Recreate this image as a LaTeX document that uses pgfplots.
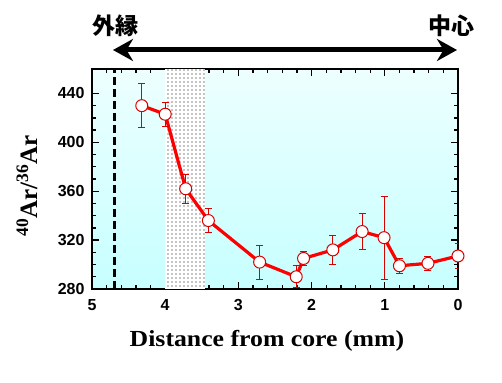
\documentclass[border=0pt]{standalone}
\usepackage{fontspec}
\setmainfont{Liberation Serif}
\newfontfamily\sansb{Liberation Sans}
\newfontfamily\cjk{Noto Sans CJK JP}
\usepackage{pgfplots}
\pgfplotsset{compat=1.18}
\usetikzlibrary{patterns,arrows.meta}
\pgfdeclarepatternformonly{bigdots}{\pgfqpoint{-1pt}{-1pt}}{\pgfqpoint{1pt}{1pt}}{\pgfqpoint{4pt}{4pt}}{%
  \pgfpathcircle{\pgfqpoint{0pt}{0pt}}{0.6pt}\pgfusepath{fill}}
\pgfplotstableread{
x y err
4.32 430 18
4.00 423 10
3.72 362 12
3.41 336 10
2.71 302 14
2.21 290 9
2.11 305 6
1.71 312 12
1.31 327 14.5
1.01 322 34
0.80 299 6
0.41 301 6
0.00 307 10
}\datatab
\begin{document}
\begin{tikzpicture}[x=1pt,y=1pt]
\path[use as bounding box] (0,0) rectangle (502,382);
\begin{axis}[
  at={(92pt,93pt)}, anchor=south west,
  scale only axis, width=366pt, height=220pt,
  x dir=reverse, xmin=0, xmax=5, ymin=280, ymax=460,
  xtick={0,1,2,3,4,5}, ytick={280,320,360,400,440},
  minor x tick num=4, minor y tick num=3,
  tick align=inside, axis line style={line width=2pt},
  major tick length=7pt, minor tick length=4pt,
  every tick/.style={black, line width=1.3pt},
  /pgf/number format/assume math mode=true,
  ticklabel style={font=\sansb\bfseries\fontsize{16}{18}\selectfont},
  xticklabel style={yshift=-7pt},
  yticklabel style={xshift=-4pt},
  axis background/.style={top color=cyan!7!white, bottom color=cyan!22!white},
  xlabel={\bfseries Distance from core (mm)},
  xlabel style={font=\fontsize{23}{25}\selectfont, xscale=1.12, at={(axis description cs:0.478,-0.236)}, anchor=center},
  ylabel={\bfseries \textsuperscript{40}Ar/\textsuperscript{36}Ar},
  ylabel style={font=\fontsize{25}{27}\selectfont, at={(axis description cs:-0.178,0.468)}, anchor=center},
  clip=true,
]
\addplot[fill=white, draw=none] coordinates {(4.0,280) (4.0,460) (3.45,460) (3.45,280)} -- cycle;
\addplot[pattern=bigdots, pattern color=black, draw=none] coordinates {(4.0,280) (4.0,460) (3.45,460) (3.45,280)} -- cycle;
\addplot[black, line width=2.5pt, dash pattern=on 8pt off 4pt] coordinates {(4.69,280) (4.69,460)};
\addplot[red, line width=3.2pt, mark=*, mark size=6pt,
  mark options={fill=white, draw=red!85!black, line width=1pt, solid},
  error bars/.cd, y dir=both, y explicit,
  error bar style={red!85!black, line width=0.9pt},
  error mark options={red!85!black, line width=0.9pt, mark size=3.5pt, rotate=90}]
  table[x=x, y=y, y error=err] {\datatab};
\end{axis}
\draw[line width=5pt, {Stealth[length=20pt,width=22pt]}-{Stealth[length=20pt,width=22pt]}] (113,332) -- (457,332);
\node[font=\cjk\bfseries\fontsize{23}{25}\selectfont] at (115,356) {外縁};
\node[font=\cjk\bfseries\fontsize{23}{25}\selectfont] at (451,356) {中心};
\end{tikzpicture}
\end{document}
